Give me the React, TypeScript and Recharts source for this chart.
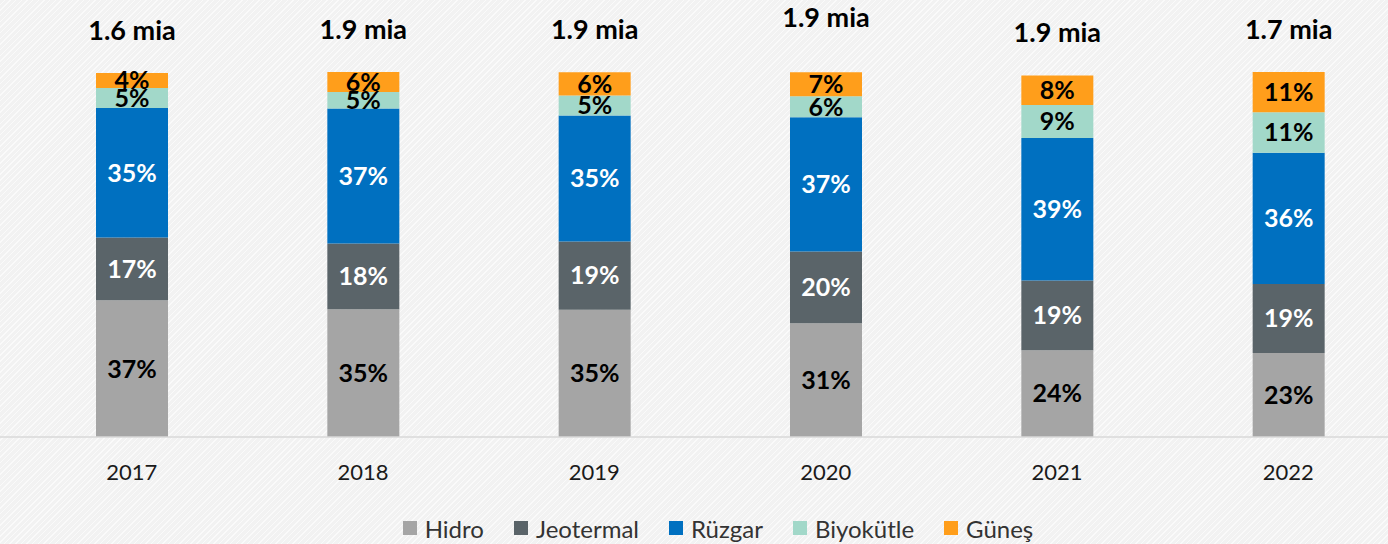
import React from 'react';
import { BarChart, Bar, XAxis, YAxis, Legend, LabelList } from 'recharts';

// share of each source, %
const years = ['2017', '2018', '2019', '2020', '2021', '2022'];
const hidro = [37.45, 34.99, 34.9, 31.2, 23.8, 23.0];
const jeotermal = [17.18, 18.0, 18.7, 19.6, 19.1, 18.9];
const ruzgar = [35.5, 36.99, 34.5, 36.8, 39.0, 36.0];
const biyokutle = [5.48, 4.55, 5.48, 5.75, 9.04, 11.1];
const gunes = [4.1, 5.48, 6.38, 6.58, 8.1, 11.0];

// printed labels
const hidroLabels = ['37%', '35%', '35%', '31%', '24%', '23%'];
const jeotermalLabels = ['17%', '18%', '19%', '20%', '19%', '19%'];
const ruzgarLabels = ['35%', '37%', '35%', '37%', '39%', '36%'];
const biyokutleLabels = ['5%', '5%', '5%', '6%', '9%', '11%'];
const gunesLabels = ['4%', '6%', '6%', '7%', '8%', '11%'];
const totals = ['1.6 mia', '1.9 mia', '1.9 mia', '1.9 mia', '1.9 mia', '1.7 mia'];

const data = years.map((year, i) => ({
  year,
  hidro: hidro[i],
  jeotermal: jeotermal[i],
  ruzgar: ruzgar[i],
  biyokutle: biyokutle[i],
  gunes: gunes[i],
  hidroLabel: hidroLabels[i],
  jeotermalLabel: jeotermalLabels[i],
  ruzgarLabel: ruzgarLabels[i],
  biyokutleLabel: biyokutleLabels[i],
  gunesLabel: gunesLabels[i],
  total: totals[i],
}));

const series = [
  { key: 'hidro', name: 'Hidro', color: '#a5a5a5', text: '#000' },
  { key: 'jeotermal', name: 'Jeotermal', color: '#5a6469', text: '#fff' },
  { key: 'ruzgar', name: 'Rüzgar', color: '#0070c0', text: '#fff' },
  { key: 'biyokutle', name: 'Biyokütle', color: '#a2d8c9', text: '#000' },
  { key: 'gunes', name: 'Güneş', color: '#ff9e1b', text: '#000' },
];

const FONT = 'Lato, "Open Sans", sans-serif';

function TotalLabel(props: any) {
  const { x, y, width, value, index } = props;
  const lift = years[index] === '2020' ? 12 : 0;
  return (
    <text
      x={x + width / 2}
      y={y - 44 - lift}
      textAnchor="middle"
      dominantBaseline="central"
      fontFamily={FONT}
      fontWeight={700}
      fontSize={27}
      fill="#000"
    >
      {value}
    </text>
  );
}

function LegendContent() {
  return (
    <div
      style={{
        display: 'flex',
        justifyContent: 'center',
        alignItems: 'center',
        gap: 30,
        paddingLeft: 32,
        paddingTop: 8,
        height: 24,
        fontFamily: FONT,
        fontSize: 24,
        color: '#333',
      }}
    >
      {series.map((s) => (
        <div key={s.key} style={{ display: 'flex', alignItems: 'center', gap: 8 }}>
          <span style={{ width: 14, height: 14, background: s.color, display: 'inline-block' }} />
          <span>{s.name}</span>
        </div>
      ))}
    </div>
  );
}

export default function App() {
  return (
    <div
      style={{
        position: 'absolute',
        left: 0,
        top: 0,
        width: 1388,
        height: 544,
        overflow: 'hidden',
        background:
          'repeating-linear-gradient(135deg, #f2f2f2 0px, #f2f2f2 3px, #fafafa 3px, #fafafa 4px)',
      }}
    >
      <BarChart
        width={1404}
        height={544}
        data={data}
        margin={{ top: 72, right: 0, left: 0, bottom: 0 }}
        barSize={72}
      >
        <XAxis
          dataKey="year"
          padding={{ left: 16, right: 0 }}
          height={71}
          axisLine={{ stroke: '#d9d9d9', strokeWidth: 1.5 }}
          tickLine={false}
          tickSize={0}
          tickMargin={27}
          tick={{ fill: '#1a1a1a', fontSize: 22, fontFamily: FONT }}
        />
        <YAxis hide domain={[0, 100]} />
        <Legend verticalAlign="bottom" height={36} content={<LegendContent />} />
        {series.map((s, i) => (
          <Bar
            key={s.key}
            dataKey={s.key}
            name={s.name}
            stackId="a"
            fill={s.color}
            isAnimationActive={false}
          >
            <LabelList
              dataKey={`${s.key}Label`}
              position="center"
              fill={s.text}
              fontSize={25}
              fontWeight={700}
              fontFamily={FONT}
            />
            {i === series.length - 1 && <LabelList dataKey="total" content={<TotalLabel />} />}
          </Bar>
        ))}
      </BarChart>
    </div>
  );
}
